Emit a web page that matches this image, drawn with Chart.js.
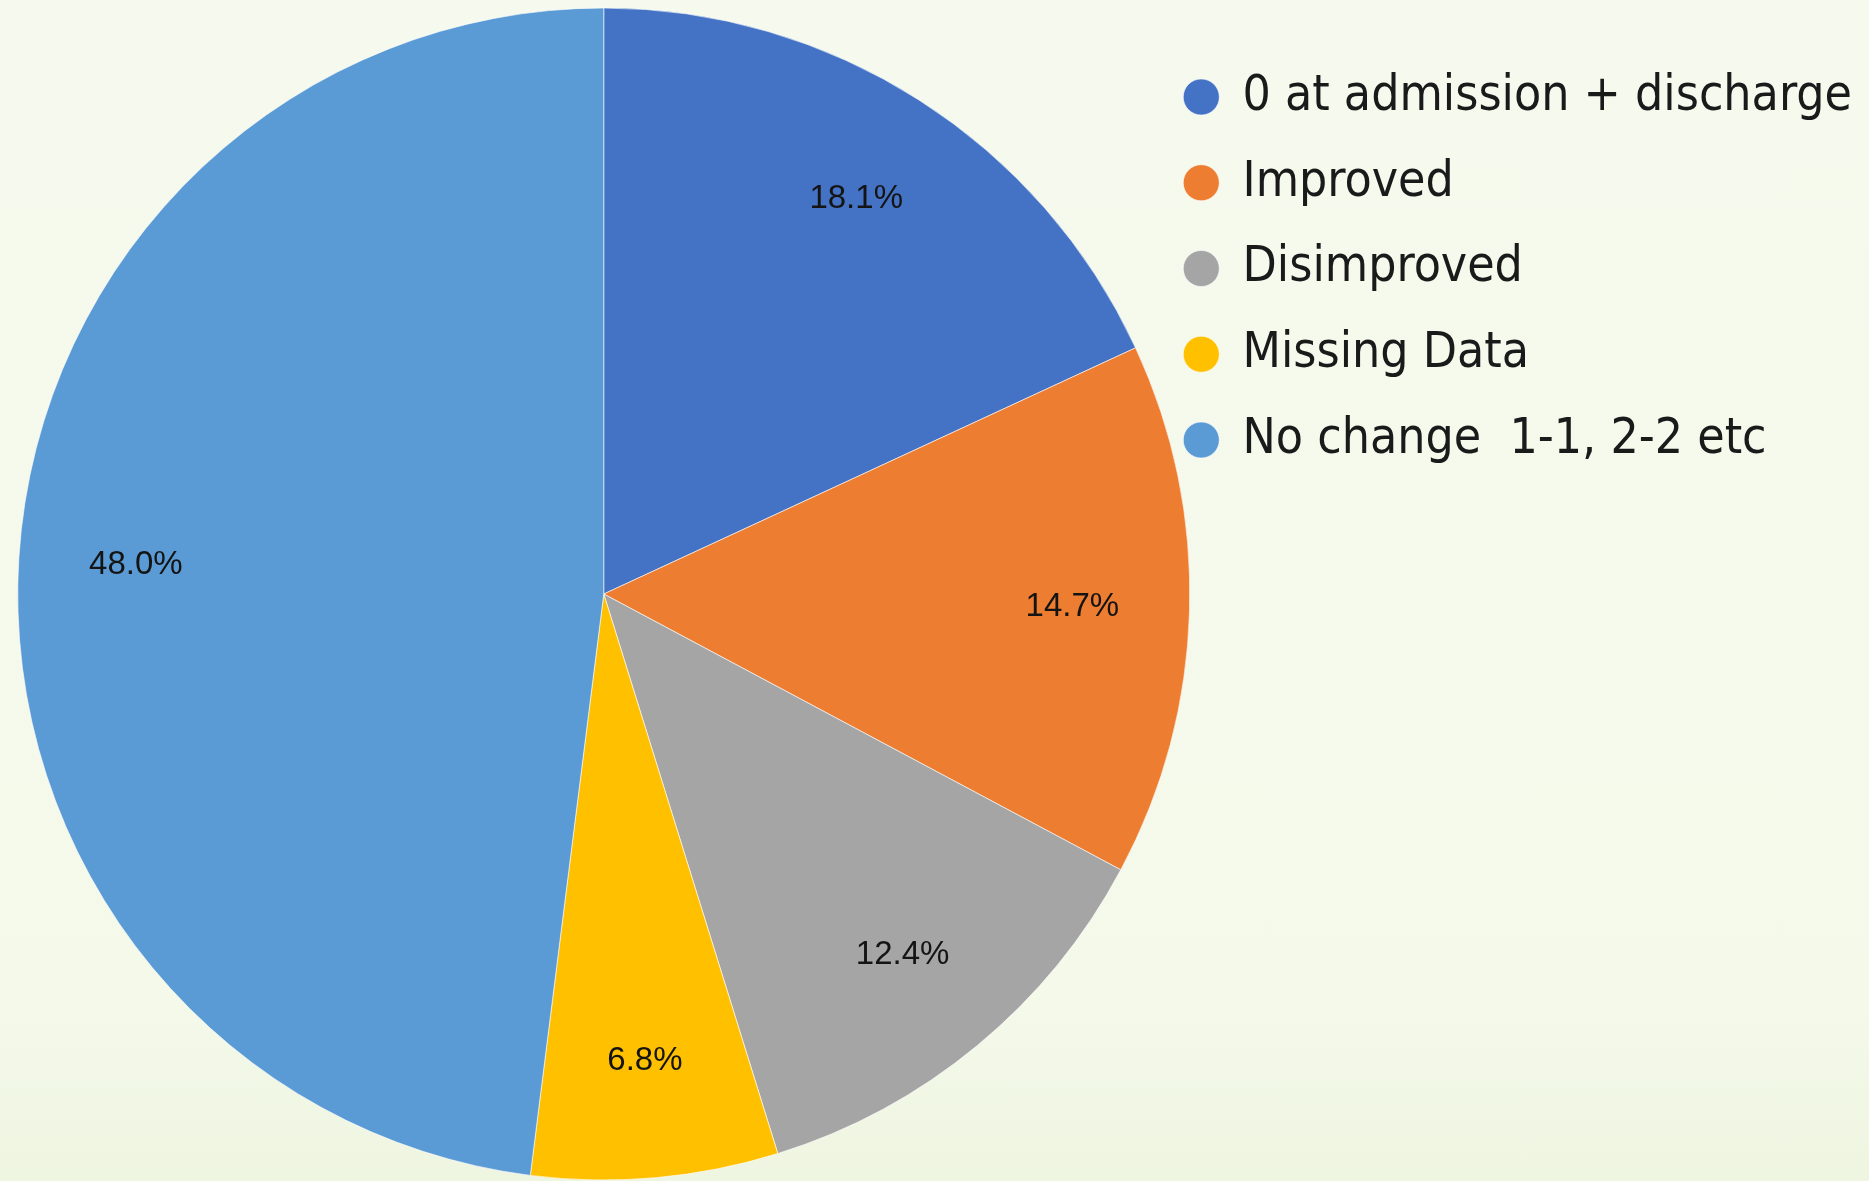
<!DOCTYPE html>
<html>
<head>
<meta charset="utf-8">
<script src="https://cdn.jsdelivr.net/npm/chart.js@4.4.1/dist/chart.umd.min.js"></script>
<style>
  html, body { margin: 0; padding: 0; }
  body { background: linear-gradient(#f6faee, #f4f9ea 85%, #eef5e0); width: 1869px; height: 1181px; overflow: hidden; }
  canvas { display: block; }
</style>
</head>
<body>
<canvas id="pie" width="1869" height="1181"></canvas>
<script>
// values (percent of patients)
const categories = ['0 at admission + discharge', 'Improved', 'Disimproved', 'Missing Data', 'No change  1-1, 2-2 etc'];
const shares = [18.1, 14.7, 12.4, 6.8, 48.0];
const sliceColors = ['#4472c4', '#ed7d31', '#a5a5a5', '#ffc000', '#5b9bd5'];

// percent labels inside each slice, like Excel's data labels
const sliceLabels = {
  id: 'sliceLabels',
  afterDatasetsDraw(chart) {
    const ctx = chart.ctx;
    const meta = chart.getDatasetMeta(0);
    ctx.save();
    ctx.font = '33px "Liberation Sans", Arial, sans-serif';
    ctx.fillStyle = '#141414';
    ctx.textAlign = 'center';
    ctx.textBaseline = 'middle';
    meta.data.forEach((arc, i) => {
      const p = arc.getProps(['x', 'y', 'startAngle', 'endAngle', 'outerRadius'], true);
      const mid = (p.startAngle + p.endAngle) / 2;
      const r = p.outerRadius * 0.8;
      ctx.fillText(shares[i].toFixed(1) + '%', p.x + Math.cos(mid) * r, p.y + Math.sin(mid) * r);
    });
    ctx.restore();
  }
};

new Chart(document.getElementById('pie'), {
  type: 'pie',
  data: {
    labels: categories,
    datasets: [{
      data: shares,
      backgroundColor: sliceColors,
      borderColor: 'rgba(255,255,255,0.6)',
      borderWidth: 1,
      radius: 586,
      clip: false
    }]
  },
  options: {
    responsive: false,
    animation: false,
    devicePixelRatio: 1,
    layout: {
      padding: { left: 59, right: 7, top: 36, bottom: 29 }
    },
    plugins: {
      tooltip: { enabled: false },
      legend: {
        position: 'right',
        align: 'start',
        labels: {
          usePointStyle: true,
          pointStyle: 'circle',
          boxWidth: 33,
          boxHeight: 25.5,
          padding: 36.25,
          color: '#1a1a1a',
          font: { family: '"Liberation Sans Narrow", "DejaVu Sans Condensed", sans-serif', size: 49.5 }
        }
      }
    }
  },
  plugins: [sliceLabels]
});
</script>
</body>
</html>
